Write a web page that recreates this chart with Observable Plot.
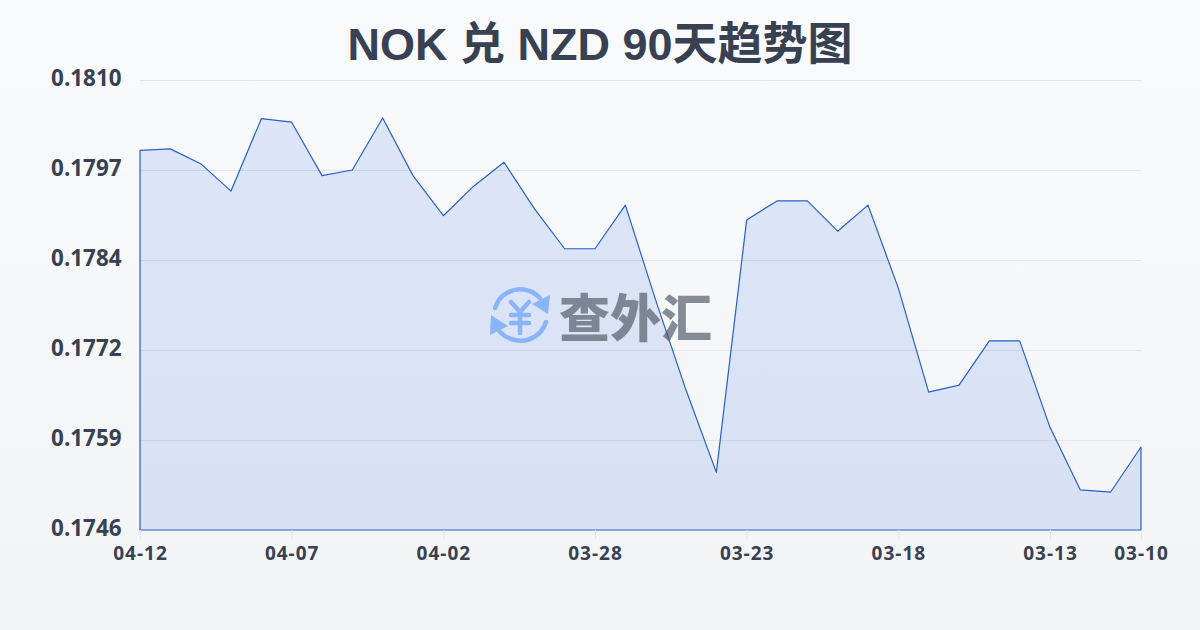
<!DOCTYPE html>
<html><head><meta charset="utf-8">
<script src="https://cdn.jsdelivr.net/npm/d3@7"></script>
<script src="https://cdn.jsdelivr.net/npm/@observablehq/plot@0.6"></script>
<style>
html,body{margin:0;padding:0;width:1200px;height:630px;overflow:hidden}
body{background:linear-gradient(180deg,#f9fafc 0%,#f3f4f6 100%);font-family:"Liberation Sans","Noto Sans CJK SC",sans-serif;position:relative}
#title{position:absolute;left:0;top:14px;width:1200px;text-align:center;font:700 45px/62px "Liberation Sans","Noto Sans CJK SC",sans-serif;color:#374151}
#chart{position:absolute;left:0;top:0}
#mark{position:absolute;left:488px;top:284px;width:64px;height:62px}
#word{position:absolute;left:559px;top:279px;font:900 51px/72px "Noto Sans CJK SC",sans-serif;color:rgba(75,85,99,.66);white-space:nowrap}
g[aria-label="x-axis tick label"]{letter-spacing:1px}
</style></head><body>
<div id="chart"></div>
<div id="title">NOK 兑 NZD 90天趋势图</div>
<svg id="mark" viewBox="0 0 64 62" fill="none" stroke="#8ab4f8">
<path d="M7 24C11 11 24 3 38 6C44 7 48 10 52 14" stroke-width="4.5" stroke-linecap="round"/>
<path d="M62 11L60 30L44 20Z" fill="#8ab4f8" stroke="none"/>
<path d="M58 38C54 51 41 59 27 56C20 55 16 52 12 48" stroke-width="4.5" stroke-linecap="round"/>
<path d="M2 51L3 31L20 42Z" fill="#8ab4f8" stroke="none"/>
<path d="M23 18L32 28L41 18M23 31H41M23 39H41M32 28V49" stroke-width="4.5" stroke-linecap="round" stroke-linejoin="round"/>
</svg>
<div id="word">查外汇</div>
<script>
const dates = ["04-12","04-11","04-10","04-09","04-08","04-07","04-06","04-05","04-04","04-03","04-02","04-01","03-31","03-30","03-29","03-28","03-27","03-26","03-25","03-24","03-23","03-22","03-21","03-20","03-19","03-18","03-17","03-16","03-15","03-14","03-13","03-12","03-11","03-10"];
const rates = [0.18000,0.18002,0.17981,0.17942,0.18045,0.18040,0.17964,0.17972,0.18046,0.17964,0.17907,0.17949,0.17983,0.17917,0.17860,0.17860,0.17922,0.17787,0.17659,0.17542,0.17901,0.17928,0.17928,0.17885,0.17922,0.17804,0.17656,0.17666,0.17729,0.17729,0.17606,0.17517,0.17514,0.17578];
const yTicks = [0.1746,0.17588,0.17716,0.17844,0.17972,0.1810];
const xTicks = ["04-12","04-07","04-02","03-28","03-23","03-18","03-13","03-10"];
const rows = dates.map((d,i)=>({d,r:rates[i]}));
const plot = Plot.plot({
  width:1200,height:630,marginTop:80,marginBottom:100,marginLeft:140,marginRight:59,
  style:{background:"transparent",fontFamily:'"Open Sans",sans-serif',overflow:"visible"},
  x:{type:"point",domain:dates,padding:0,round:false,label:null},
  y:{domain:[0.1746,0.1810],label:null},
  marks:[
    Plot.ruleY(yTicks.slice(1),{stroke:"#e2e5eb",strokeWidth:1}),
    Plot.areaY(rows,{x:"d",y:"r",y1:0.1746,y2:"r",fill:"#2563eb",fillOpacity:.13,stroke:"#2a5fc9",strokeWidth:1.2,curve:"linear"}),
    Plot.axisY({ticks:yTicks,tickSize:0,tickPadding:19,dy:-1.5,tickFormat:d3.format(".4f"),fontFamily:"Open Sans",fontSize:22.4,fontWeight:700,fill:"#374151",label:null}),
    Plot.axisX({ticks:xTicks,tickSize:9,tickPadding:7,stroke:"#e2e5eb",fontFamily:"Open Sans",fontSize:19,fontWeight:700,fill:"#374151",label:null})
  ]
});
document.getElementById("chart").appendChild(plot);
</script>
</body></html>
